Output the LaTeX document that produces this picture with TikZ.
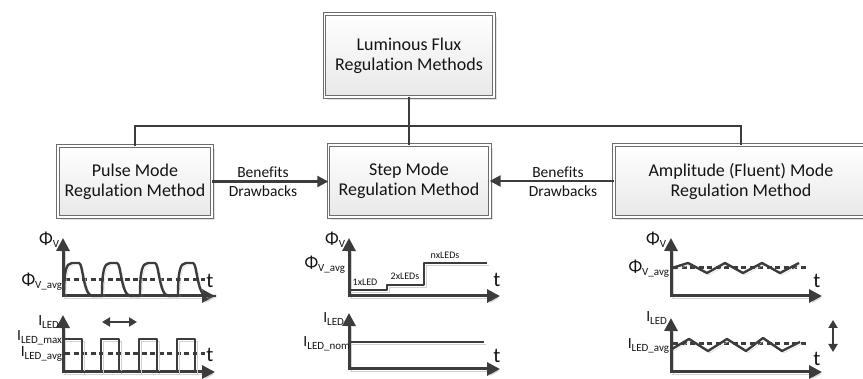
\documentclass[tikz,border=0pt]{standalone}
\usepackage{fontspec}
\setmainfont{Carlito}[Ligatures={NoCommon}]
\usetikzlibrary{arrows.meta,shadows,calc}
\definecolor{ln}{HTML}{3C3C3C}
\definecolor{tx}{HTML}{141414}
\definecolor{sh}{HTML}{D2D2D2}
\newcommand\msym[3][15.5]{{\fontsize{#1}{#1}\selectfont #2}\raisebox{-3pt}{\fontsize{11}{11}\selectfont #3}}
\begin{document}
\begin{tikzpicture}[x=1pt,y=-1pt,
  every node/.style={text=tx, inner sep=0pt, outer sep=0pt},
  box/.style={draw=ln!75, line width=1pt, double=white, double distance=1.6pt,
    top color=white, bottom color=black!9, align=center,
    font=\fontsize{18}{20}\selectfont,
    drop shadow={opacity=0.22, shadow xshift=3pt, shadow yshift=-3pt}},
  conn/.style={draw=ln, line width=2.2pt},
  arr/.style={conn, -{Triangle[length=11pt,width=11pt]}},
  shad/.style={preaction={draw=sh, transform canvas={shift={(2pt,-2pt)}}}},
  axis/.style={draw=ln, line width=3pt, -{Triangle[length=13pt,width=13pt]}, shad},
  sig/.style={draw=ln, line width=2.4pt, line join=round, shad},
  avg/.style={draw=ln, line width=3pt, dash pattern=on 5pt off 3.5pt},
  dbl/.style={draw=ln, line width=2.2pt, {Triangle[length=8pt,width=9pt]}-{Triangle[length=8pt,width=9pt]}},
  lbl/.style={font=\fontsize{15.5}{16}\selectfont},
  tlab/.style={anchor=base, font=\fontsize{21}{21}\selectfont},
  small/.style={anchor=base, font=\fontsize{10}{10}\selectfont},
  ylab/.style={anchor=base east}]
\useasboundingbox (0,0) rectangle (863,379);

% boxes
\node[box, minimum width=169.4, minimum height=83.4] (top) at (409,55.5) {Luminous Flux\\Regulation Methods};
\node[box, minimum width=154.4, minimum height=71.4] (left) at (135,181.5) {Pulse Mode\\Regulation Method};
\node[box, minimum width=161.4, minimum height=72.4] (mid) at (409,181) {Step Mode\\Regulation Method};
\node[box, minimum width=254.4, minimum height=72.4] (right) at (741,181) {Amplitude (Fluent) Mode\\Regulation Method};

% tree connectors
\coordinate (bus) at (409,126);
\draw[conn] (top.south) -- (mid.north);
\draw[conn] (left.north) |- (bus) -| (right.north);

% comparison arrows
\draw[arr] (left.east) -- (left.east -| mid.west);
\draw[arr] (right.west) -- (right.west -| mid.east);
\node[lbl] (b1) at (263,172) {Benefits};
\node[lbl] (d1) at (263,191) {Drawbacks};
\node[lbl] (b2) at (558,172) {Benefits};
\node[lbl] (d2) at (563,191) {Drawbacks};

% ---------- left plots ----------
\draw[axis] (63,297.5) -- (63,238);
\draw[axis] (61.5,296) -- (215,296);
\draw[avg] (65,280) -- (205,280);
\draw[sig] (64,296)
  \foreach \x in {64,102,140,178}{
    .. controls (\x,272) and (\x+2,263) .. (\x+8,263) -- (\x+15,263)
    .. controls (\x+19,263) and (\x+19,294) .. (\x+28,296) -- (\x+38,296)}
  ;
\node[ylab] (phiL) at (59,245) {\msym[18]{Φ}{V}};
\node[ylab] (phiavgL) at (62,286) {\msym[18]{Φ}{V\_avg}};
\node[tlab] (tL1) at (210,288) {t};

\draw[axis] (63,373.5) -- (63,315);
\draw[axis] (61.5,372) -- (215,372);
\draw[avg] (65,354) -- (205,354);
\draw[sig] (63,339) -- (82,339) -- (82,372) -- (101,372) -- (101,339) -- (119,339) -- (119,372)
  -- (139,372) -- (139,339) -- (157,339) -- (157,372) -- (177,372) -- (177,339) -- (195,339) -- (195,372);
\draw[dbl] (102,322) -- (137,322);
\node[ylab] (iL) at (59,326) {\msym{I}{LED}};
\node[ylab] (imaxL) at (62,341) {\msym{I}{LED\_max}};
\node[ylab] (iavgL) at (62,357) {\msym{I}{LED\_avg}};
\node[tlab] (tL2) at (210,362) {t};

% ---------- middle plots ----------
\draw[axis] (349,297.5) -- (349,238);
\draw[axis] (347.5,296) -- (500,296);
\draw[sig] (349,290) -- (387,290) -- (387,285) -- (424,285) -- (424,263) -- (487,263);
\node[ylab] (phiM) at (345,245) {\msym[18]{Φ}{V}};
\node[ylab] (phiavgM) at (345,269) {\msym[18]{Φ}{V\_avg}};
\node[small] (n1) at (365,286) {1xLED};
\node[small] (n2) at (405,280) {2xLEDs};
\node[small] (n3) at (445,259) {nxLEDs};
\node[tlab] (tM1) at (497,287) {t};

\draw[axis] (349,370.5) -- (349,313);
\draw[axis] (347.5,369) -- (500,369);
\draw[sig] (349,342) -- (484,342);
\node[ylab] (iM) at (344,323) {\msym{I}{LED}};
\node[ylab] (inomM) at (350,347) {\msym{I}{LED\_nom}};
\node[tlab] (tM2) at (497,363) {t};

% ---------- right plots ----------
\draw[axis] (671,297.5) -- (671,238);
\draw[axis] (669.5,296) -- (822,296);
\draw[avg] (673,268) -- (807,268);
\draw[sig] (672,268) -- (688,263) -- (707,273) -- (725,263) -- (743,273) -- (762,263) -- (780,273) -- (799,263);
\node[ylab] (phiR) at (666,245) {\msym[18]{Φ}{V}};
\node[ylab] (phiavgR) at (669,273) {\msym[18]{Φ}{V\_avg}};
\node[tlab] (tR1) at (817,288) {t};

\draw[axis] (671,373.5) -- (671,318);
\draw[axis] (669.5,372) -- (822,372);
\draw[avg] (673,344) -- (807,344);
\draw[sig] (672,349) -- (689,339) -- (708,351) -- (727,339) -- (746,351) -- (763,338) -- (782,351) -- (800,342);
\draw[dbl] (833,320) -- (833,352);
\node[ylab] (iR) at (667,322) {\msym{I}{LED}};
\node[ylab] (iavgR) at (669,349) {\msym{I}{LED\_avg}};
\node[tlab] (tR2) at (817,366) {t};
\end{tikzpicture}
\end{document}
